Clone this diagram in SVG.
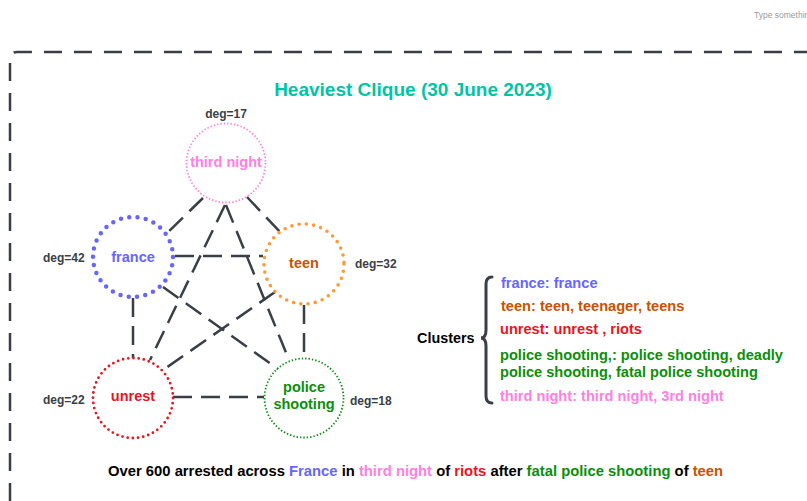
<svg xmlns="http://www.w3.org/2000/svg" width="807" height="501" viewBox="0 0 807 501">
<style>
text{font-family:"Liberation Sans",Arial,sans-serif;font-weight:bold}
.deg{font-size:12px;fill:#3a3f47}
.lbl{font-size:14.5px;text-anchor:middle;dominant-baseline:central}
.cl{font-size:14.6px}
.edge{stroke:#3a3f47;stroke-width:2.5;stroke-dasharray:19 9;fill:none}
.blue{fill:#6666ff}.orange{fill:#cc5200}.red{fill:#e8141e}.green{fill:#0a8f0a}.pink{fill:#ff80df}.black{fill:#000}
</style>
<rect width="807" height="501" fill="#fff"/>
<text x="754" y="18" style="font-weight:normal;font-size:8.5px;fill:#9a9a9a">Type somethin</text>
<path d="M10,501 L10,59 Q10,52 17,52 L807,52" fill="none" stroke="#3a3f47" stroke-width="2.5" stroke-dasharray="18 12"/>
<text x="413" y="96" text-anchor="middle" style="font-size:19px;fill:#00c4a7">Heaviest Clique (30 June 2023)</text>
<g id="connectors">
<line class="edge" x1="203" y1="198" x2="166" y2="234"/>
<line class="edge" x1="247" y1="197" x2="281" y2="233"/>
<line class="edge" x1="175" y1="256" x2="263" y2="256"/>
<line class="edge" x1="225" y1="205" x2="150" y2="360"/>
<line class="edge" x1="226" y1="205" x2="289" y2="360"/>
<line class="edge" x1="133" y1="298" x2="133" y2="358"/>
<line class="edge" x1="163" y1="287" x2="278" y2="369"/>
<line class="edge" x1="275" y1="292" x2="163" y2="370"/>
<line class="edge" x1="304" y1="305" x2="304" y2="358"/>
<line class="edge" x1="173" y1="397" x2="264" y2="397"/>
</g>
<g id="third-night">
<circle cx="226" cy="163" r="39.5" fill="none" stroke="#ff80df" stroke-width="1.8" stroke-dasharray="1.4 2"/>
<text class="lbl pink" x="226" y="162">third night</text>
<text class="deg" x="226" y="118" text-anchor="middle">deg=17</text>
</g>
<g id="france">
<circle cx="133" cy="257" r="40" fill="none" stroke="#6666ff" stroke-width="4.5" stroke-linecap="round" stroke-dasharray="0 8.38"/>
<text class="lbl blue" x="133" y="257">france</text>
<text class="deg" x="43" y="262">deg=42</text>
</g>
<g id="teen">
<circle cx="304" cy="264" r="40" fill="none" stroke="#ff9933" stroke-width="3.6" stroke-linecap="round" stroke-dasharray="0 7.33"/>
<text class="lbl orange" x="304" y="263">teen</text>
<text class="deg" x="355" y="268">deg=32</text>
</g>
<g id="unrest">
<circle cx="133" cy="398" r="40" fill="none" stroke="#e8141e" stroke-width="2.8" stroke-linecap="round" stroke-dasharray="0 5.24"/>
<text class="lbl red" x="133" y="396">unrest</text>
<text class="deg" x="43" y="404">deg=22</text>
</g>
<g id="police-shooting">
<circle cx="304" cy="398" r="39.5" fill="none" stroke="#0a8f0a" stroke-width="1.8" stroke-dasharray="1.4 2"/>
<text class="lbl green" x="304" y="387">police</text>
<text class="lbl green" x="304" y="404">shooting</text>
<text class="deg" x="350" y="405">deg=18</text>
</g>
<g id="clusters">
<text class="black" x="417" y="343" style="font-size:14.4px">Clusters</text>
<path d="M492,277 Q486,277 486,284 L486,330 Q486,338 481,338 Q486,338 486,346 L486,396 Q486,403 492,403" fill="none" stroke="#3a3f47" stroke-width="3" stroke-linecap="round"/>
<text class="cl blue" x="501" y="288">france: france</text>
<text class="cl orange" x="501" y="311">teen: teen, teenager, teens</text>
<text class="cl red" x="500" y="334">unrest: unrest , riots</text>
<text class="cl green" x="500" y="360">police shooting,: police shooting, deadly</text>
<text class="cl green" x="500" y="377">police shooting, fatal police shooting</text>
<text class="cl pink" x="500" y="401">third night: third night, 3rd night</text>
</g>
<text x="108" y="476" style="font-size:14.8px"><tspan class="black">Over 600 arrested across </tspan><tspan class="blue">France</tspan><tspan class="black"> in </tspan><tspan class="pink">third night</tspan><tspan class="black"> of </tspan><tspan class="red">riots</tspan><tspan class="black"> after </tspan><tspan class="green">fatal police shooting</tspan><tspan class="black"> of </tspan><tspan class="orange">teen</tspan></text>
</svg>
